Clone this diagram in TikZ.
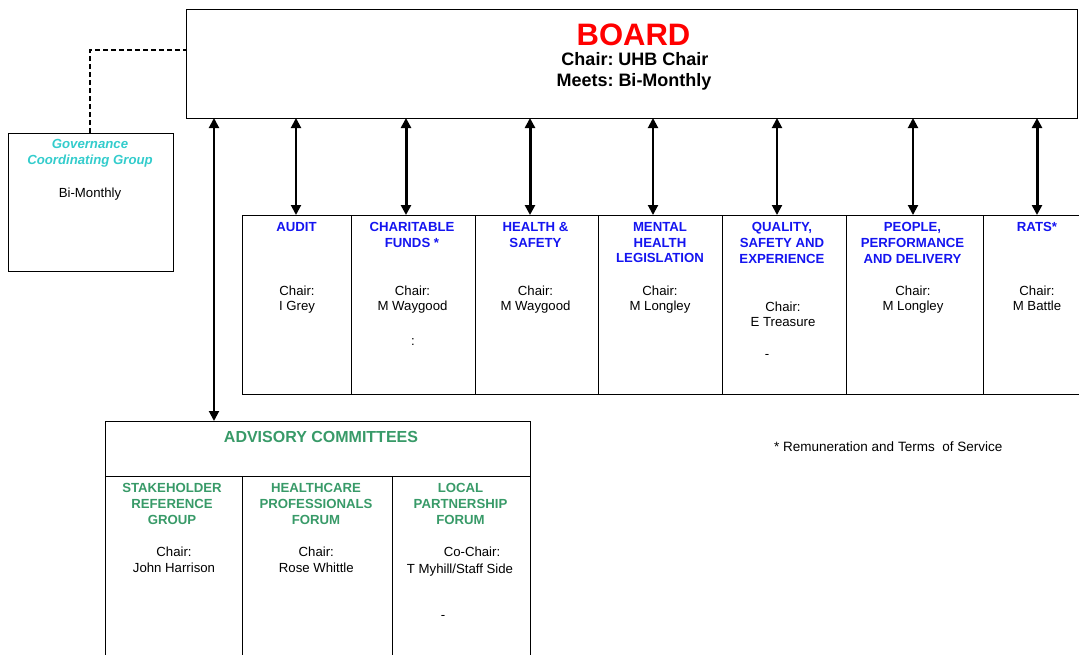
\documentclass[tikz,border=0pt]{standalone}
\usepackage{fontspec}
\setmainfont{Liberation Sans}
\usetikzlibrary{arrows.meta}
\definecolor{cblue}{RGB}{20,20,240}
\definecolor{cgreen}{RGB}{56,154,104}
\definecolor{ccyan}{RGB}{51,204,204}
\definecolor{cred}{RGB}{255,0,0}
\frenchspacing
\begin{document}
\begin{tikzpicture}[x=1pt,y=-1pt,
  box/.style={draw, line width=0.8pt, inner sep=0pt, outer sep=0pt, anchor=north west},
  ttl/.style={font=\fontsize{13.2}{15.7}\selectfont\bfseries, text=cblue, align=center, anchor=north, inner sep=0pt},
  gttl/.style={font=\fontsize{13.2}{15.8}\selectfont\bfseries, text=cgreen, align=center, anchor=north, inner sep=0pt},
  txt/.style={font=\fontsize{13.2}{15.2}\selectfont, align=center, anchor=north, inner sep=0pt},
  gtxt/.style={font=\fontsize{13.2}{16.4}\selectfont, align=center, anchor=north, inner sep=0pt},
  link/.style={{Triangle[width=10pt,length=10pt]}-{Triangle[width=10pt,length=10pt]}, line width=2pt},
  thicklink/.style={link, line width=3pt},
]
\useasboundingbox (0,0) rectangle (1079,654);
\begin{scope}
\clip (0,0) rectangle (1079,654);

% Board
\node[box, minimum width=891pt, minimum height=109pt] (board) at (186,9) {};
\node[anchor=base, inner sep=0pt, font=\fontsize{31}{31}\selectfont\bfseries, text=cred] (boardt) at (633.5,45.7) {BOARD};
\node[anchor=base, inner sep=0pt, font=\fontsize{18}{18}\selectfont\bfseries] (boardc) at (635,65.3) {Chair: UHB Chair};
\node[anchor=base, inner sep=0pt, font=\fontsize{18}{18}\selectfont\bfseries] (boardm) at (634,86) {Meets: Bi-Monthly};

% Governance
\node[box, minimum width=165pt, minimum height=138pt] (gov) at (8,133) {};
\node[anchor=north, inner sep=0pt, align=center, text=ccyan, font=\fontsize{13.2}{15.7}\selectfont\bfseries\itshape] (govt) at (90,139.3) {Governance\\Coordinating Group};
\node[txt] (govm) at (90,187.3) {Bi-Monthly};
\draw[line width=1.5pt, dash pattern=on 5pt off 3pt] (gov.north -| 90,0) |- (board.west |- 0,50);

% Committees
\node[box, minimum width=109pt, minimum height=179pt] (audit) at (242,215) {};
\node[box, minimum width=124pt, minimum height=179pt] (charit) at (351,215) {};
\node[box, minimum width=123pt, minimum height=179pt] (health) at (475,215) {};
\node[box, minimum width=124pt, minimum height=179pt] (mental) at (598,215) {};
\node[box, minimum width=124pt, minimum height=179pt] (quality) at (722,215) {};
\node[box, minimum width=137pt, minimum height=179pt] (people) at (846,215) {};
\node[box, minimum width=120pt, minimum height=179pt] (rats) at (983,215) {};

\node[ttl] (auditt) at (296.5,222.3) {AUDIT};
\node[txt] (auditc) at (297,286) {Chair:\\I Grey};

\node[ttl] (charitt) at (412,222.3) {CHARITABLE\\FUNDS *};
\node[txt] (charitc) at (412.5,286) {Chair:\\M Waygood};
\node[txt] (charitx) at (413,338) {:};

\node[ttl] (healtht) at (535.5,222.3) {HEALTH \&\\SAFETY};
\node[txt] (healthc) at (535.5,286) {Chair:\\M Waygood};

\node[ttl] (mentalt) at (660,222.3) {MENTAL\\HEALTH\\LEGISLATION};
\node[txt] (mentalc) at (660,286) {Chair:\\M Longley};

\node[ttl] (qualityt) at (782,222.3) {QUALITY,\\SAFETY AND\\EXPERIENCE};
\node[txt] (qualityc) at (783,301.7) {Chair:\\E Treasure};
\node[txt] (qualityx) at (767,354) {-};

\node[ttl] (peoplet) at (912.5,222.3) {PEOPLE,\\PERFORMANCE\\AND DELIVERY};
\node[txt] (peoplec) at (913,286) {Chair:\\M Longley};

\node[ttl] (ratst) at (1037,222.3) {RATS*};
\node[txt] (ratsc) at (1037,286) {Chair:\\M Battle};

% Arrows board <-> committees
\draw[link] (board.south -| 296,0) -- (audit.north -| 296,0);
\draw[thicklink] (board.south -| 406,0) -- (charit.north -| 406,0);
\draw[thicklink] (board.south -| 530,0) -- (health.north -| 530,0);
\draw[link] (board.south -| 653,0) -- (mental.north -| 653,0);
\draw[link] (board.south -| 777,0) -- (quality.north -| 777,0);
\draw[link] (board.south -| 913,0) -- (people.north -| 913,0);
\draw[thicklink] (board.south -| 1037,0) -- (rats.north -| 1037,0);

% Advisory committees
\node[box, minimum width=425pt, minimum height=55pt] (adv) at (105,421) {};
\node[anchor=north, inner sep=0pt, font=\fontsize{16}{16}\selectfont\bfseries, text=cgreen] (advt) at (321,431.5) {ADVISORY COMMITTEES};
\draw[link] (board.south -| 214,0) -- (adv.north -| 214,0);

\node[box, minimum width=137pt, minimum height=200pt] (stake) at (105,476) {};
\node[box, minimum width=150pt, minimum height=200pt] (hcpf) at (242,476) {};
\node[box, minimum width=138pt, minimum height=200pt] (lpf) at (392,476) {};

\node[gttl] (staket) at (172,483.3) {STAKEHOLDER\\REFERENCE\\GROUP};
\node[gtxt] (stakec) at (174,546.7) {Chair:\\John Harrison};

\node[gttl] (hcpft) at (316,483.3) {HEALTHCARE\\PROFESSIONALS\\FORUM};
\node[gtxt] (hcpfc) at (316.3,546.7) {Chair:\\Rose Whittle};

\node[gttl] (lpft) at (460.5,483.3) {LOCAL\\PARTNERSHIP\\FORUM};
\node[txt] (lpfc1) at (472,546.7) {Co-Chair:};
\node[txt] (lpfc2) at (460,563.3) {T Myhill/Staff Side};
\node[txt] (lpfx) at (443,615) {-};

% Footnote
\node[anchor=base west, inner sep=0pt, font=\fontsize{13.5}{13.5}\selectfont] (note) at (774,451) {* Remuneration and Terms\ \ of Service};
\end{scope}
\end{tikzpicture}
\end{document}
